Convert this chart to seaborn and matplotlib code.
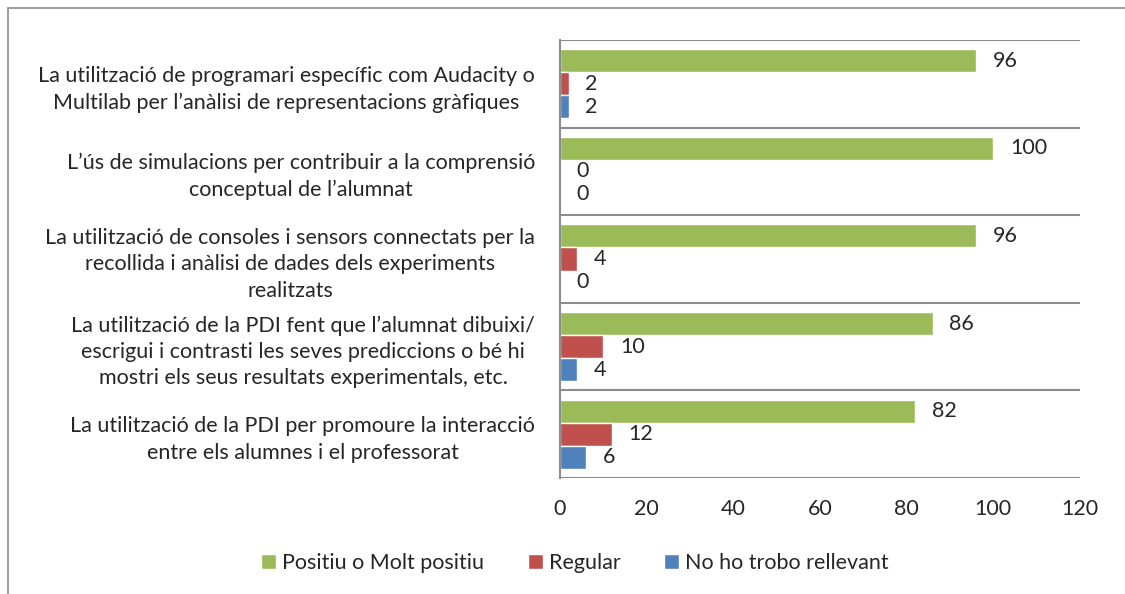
import pandas as pd
import matplotlib
matplotlib.use("Agg")
import matplotlib.pyplot as plt
from matplotlib.patches import Rectangle, Patch
import seaborn as sns

# dades del gràfic (de dalt a baix)
categories = [
    "La utilització de programari específic com Audacity o\nMultilab per l’anàlisi de representacions gràfiques",
    "L’ús de simulacions per contribuir a la comprensió\nconceptual de l’alumnat",
    "La utilització de consoles i sensors connectats per la\nrecollida i anàlisi de dades dels experiments\nrealitzats",
    "La utilització de la PDI fent que l’alumnat dibuixi/\nescrigui i contrasti les seves prediccions o bé hi\nmostri els seus resultats experimentals, etc.",
    "La utilització de la PDI per promoure la interacció\nentre els alumnes i el professorat",
]
series = ["Positiu o Molt positiu", "Regular", "No ho trobo rellevant"]
positiu = [96, 100, 96, 86, 82]
regular = [2, 0, 4, 10, 12]
no_rellevant = [2, 0, 0, 4, 6]
x_ticks = [0, 20, 40, 60, 80, 100, 120]

colors = ["#9BBB59", "#C0504D", "#4F81BD"]
grid_color = "#8C8C8C"
fs = 15.5

df = pd.DataFrame({
    "categoria": categories * 3,
    "serie": [series[0]] * 5 + [series[1]] * 5 + [series[2]] * 5,
    "valor": positiu + regular + no_rellevant,
})

sns.set_style("white")
plt.rcParams["font.family"] = ["Lato", "DejaVu Sans"]

fig = plt.figure(figsize=(11.25, 5.94), dpi=100)
ax = fig.add_axes([560 / 1125, 1 - 478 / 594, 520 / 1125, 438 / 594])

sns.barplot(data=df, x="valor", y="categoria", hue="serie", order=categories,
            hue_order=series, palette=colors, orient="h", width=0.79,
            saturation=1, ax=ax, legend=False)

for cont in ax.containers:
    ax.bar_label(cont, padding=12, fontsize=fs)

ax.set_xlim(0, 120)
ax.set_xticks(x_ticks)
ax.set_ylim(4.5, -0.5)
ax.set_yticks(range(len(categories)))
ax.set_yticklabels(categories, fontsize=fs, multialignment="center", linespacing=1.4)
ax.set_yticks([i - 0.5 for i in range(len(categories) + 1)], minor=True)
ax.grid(True, which="minor", axis="y", color=grid_color, linewidth=1.5)
ax.tick_params(axis="y", which="both", length=0, pad=18)
ax.tick_params(axis="x", length=0, labelsize=fs, pad=15)
ax.set_xlabel("")
ax.set_ylabel("")
for s in ["top", "right", "bottom"]:
    ax.spines[s].set_visible(False)
ax.spines["left"].set_color(grid_color)
ax.spines["left"].set_linewidth(1.5)

handles = [Patch(facecolor=c, label=s) for c, s in zip(colors, series)]
fig.legend(handles=handles, loc="center", bbox_to_anchor=(575 / 1125, 1 - 563 / 594),
           ncol=3, frameon=False, fontsize=fs, handlelength=0.7, handleheight=0.7,
           handletextpad=0.3, columnspacing=2.0)

# marc del gràfic
fig.add_artist(Rectangle((8 / 1125, -0.1), 1.2, 1.1 - 8 / 594, transform=fig.transFigure,
                         fill=False, edgecolor="#8C8C8C", linewidth=1.2))

fig.savefig("out.png", dpi=100)
